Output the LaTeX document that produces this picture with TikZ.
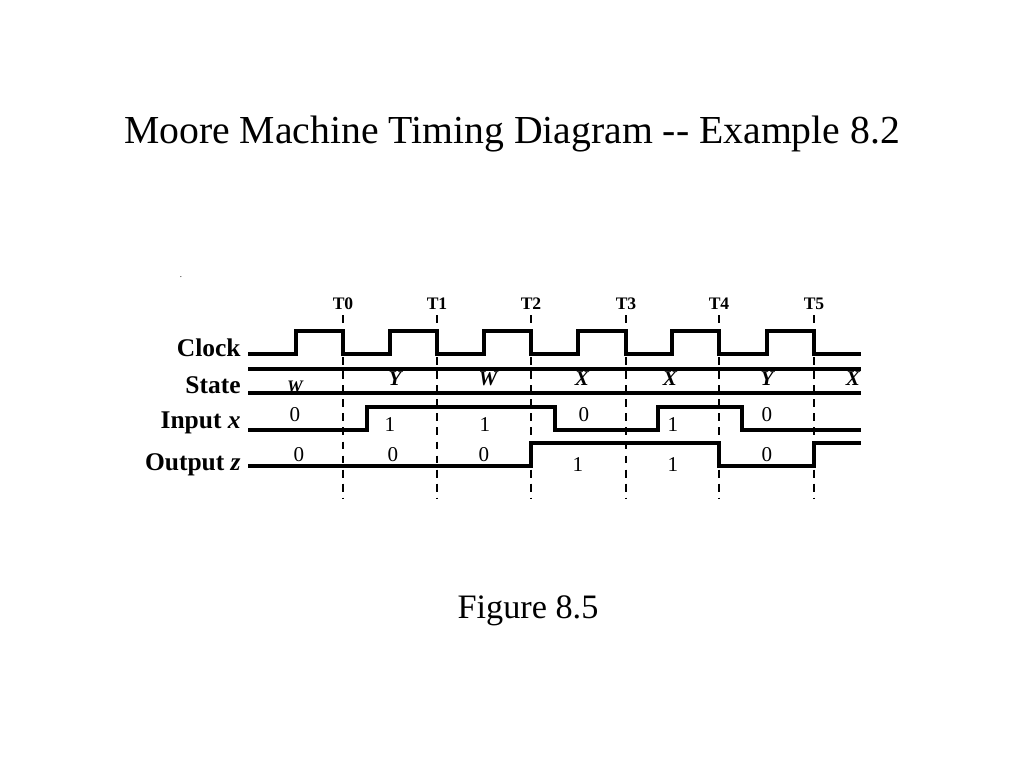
\documentclass[tikz,border=0pt]{standalone}
\usepackage{fontspec}
\setmainfont{Liberation Serif}
\usetikzlibrary{positioning}

\begin{document}
\begin{tikzpicture}[x=0.02cm,y=-0.02cm]
\tikzstyle{wave}=[line width=2.2pt,line join=miter]
\tikzstyle{tick}=[dash pattern=on 4.5pt off 3.5pt,line width=0.8pt]
\tikzstyle{signal}=[anchor=east,inner sep=0pt,font=\bfseries\fontsize{14.5}{16}\selectfont]
\tikzstyle{tlabel}=[inner sep=0pt,font=\bfseries\fontsize{10}{12}\selectfont]
\tikzstyle{val}=[inner sep=0pt,font=\fontsize{12}{14}\selectfont]
\tikzstyle{stval}=[inner sep=0pt,font=\bfseries\itshape\fontsize{12}{14}\selectfont]
\useasboundingbox (0,0) rectangle (1024,768);
\node[inner sep=0pt,font=\fontsize{22.6}{26}\selectfont] (title) at (512,134) {Moore Machine Timing Diagram {-}{-} Example 8.2};
\node[inner sep=0pt,font=\fontsize{19.5}{24}\selectfont] (fig) at (528,611) {Figure 8.5};
\node[inner sep=0pt,font=\fontsize{5}{6}\selectfont] (dot) at (181,277) {.};
% clock edges
\foreach \i/\x in {0/343,1/437,2/531,3/626,4/719,5/814}{
  \node[tlabel] (t\i) at (\x,304) {T\i};
  \draw[tick] (\x,315) -- (\x,498);
}
% signal names
\node[signal] (clk) at (241,348) {Clock};
\node[signal] (state) at (241,385) {State};
\node[signal] (in) at (241,423) {Input \textit{x}};
\node[signal] (out) at (241,465) {Output \textit{z}};
% waveforms
\draw[wave] (248,354) -- (296,354) -- (296,331) -- (343,331) -- (343,354) -- (390,354) -- (390,331)
  -- (437,331) -- (437,354) -- (484,354) -- (484,331) -- (531,331) -- (531,354) -- (578,354)
  -- (578,331) -- (626,331) -- (626,354) -- (672,354) -- (672,331) -- (719,331) -- (719,354)
  -- (767,354) -- (767,331) -- (814,331) -- (814,354) -- (861,354);
\draw[wave] (248,369) -- (861,369);
\draw[wave] (248,393) -- (861,393);
\draw[wave] (248,430) -- (367,430) -- (367,407) -- (555,407) -- (555,430) -- (658,430) -- (658,407)
  -- (742,407) -- (742,430) -- (861,430);
\draw[wave] (248,466) -- (531,466) -- (531,443) -- (719,443) -- (719,466) -- (814,466) -- (814,443) -- (861,443);
% state values
\node[stval,font=\bfseries\itshape\fontsize{10}{12}\selectfont] (s0) at (295,387) {W};
\foreach \i/\x/\s in {1/395/Y,2/488/W,3/582/X,4/670/X,5/767/Y,6/853/X}
  \node[stval] (s\i) at (\x,379) {\s};
% input values
\foreach \i/\x/\y/\v in {0/295/415/0,1/390/425/1,2/485/425/1,3/584/415/0,4/673/425/1,5/767/415/0}
  \node[val] (x\i) at (\x,\y) {\v};
% output values
\foreach \i/\x/\y/\v in {0/299/455/0,1/393/455/0,2/484/455/0,3/578/465/1,4/673/465/1,5/767/455/0}
  \node[val] (z\i) at (\x,\y) {\v};
\end{tikzpicture}
\end{document}
